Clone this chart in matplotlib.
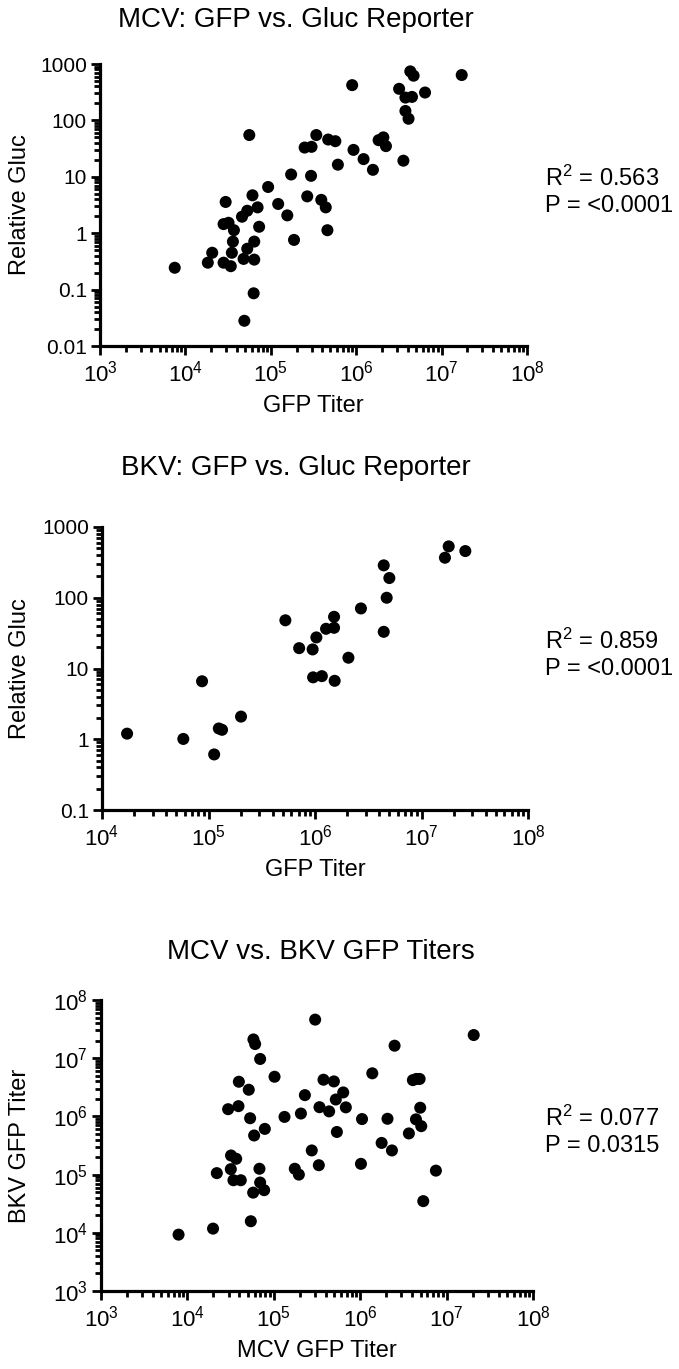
import numpy as np
import matplotlib
matplotlib.use("Agg")
from matplotlib import pyplot as plt
from matplotlib.ticker import LogLocator, FixedLocator, FixedFormatter, NullFormatter

plt.rcParams["font.family"] = ["Liberation Sans", "DejaVu Sans"]
plt.rcParams["mathtext.fontset"] = "custom"
plt.rcParams["mathtext.rm"] = "Liberation Sans"
plt.rcParams["mathtext.it"] = "Liberation Sans:italic"
plt.rcParams["mathtext.bf"] = "Liberation Sans:bold"

# MCV: GFP titer vs relative Gluc
mcv_gfp = [7.5e3, 1.83e4, 2.06e4, 2.8e4, 3.4e4, 2.96e4, 2.8e4, 3.2e4, 3.7e4, 3.6e4,
           3.5e4, 4.6e4, 5.3e4, 5.6e4, 6.1e4, 7.0e4, 7.3e4, 6.4e4, 5.3e4, 4.8e4,
           6.4e4, 6.3e4, 4.9e4, 9.3e4, 1.22e5, 1.56e5, 1.87e5, 1.73e5, 2.49e5, 3.0e5,
           3.41e5, 2.96e5, 2.67e5, 3.9e5, 4.4e5, 4.6e5, 4.7e5, 5.7e5, 6.1e5, 8.97e5,
           9.3e5, 1.22e6, 1.57e6, 1.83e6, 2.08e6, 2.23e6, 3.18e6, 3.57e6, 3.77e6, 4.5e6,
           3.77e6, 4.1e6, 4.3e6, 4.7e6, 6.4e6, 1.72e7]
mcv_gluc = [0.244, 0.30, 0.45, 0.30, 0.26, 3.58, 1.45, 1.53, 1.13, 0.71,
            0.45, 1.96, 2.5, 55, 4.7, 2.87, 1.30, 0.71, 0.53, 0.35,
            0.34, 0.086, 0.028, 6.6, 3.3, 2.07, 0.76, 11, 33, 34,
            55, 10.4, 4.5, 3.9, 2.87, 1.13, 45.8, 42.8, 16.4, 422,
            30, 20.6, 13.3, 44.6, 50, 35, 363, 19.3, 254, 261,
            147, 107, 740, 620, 312, 637]

# BKV: GFP titer vs relative Gluc
bkv_gfp = [1.72e4, 5.8e4, 8.7e4, 1.13e5, 1.25e5, 1.34e5, 2.02e5, 5.27e5, 7.1e5, 9.5e5,
           1.03e6, 1.27e6, 1.51e6, 1.51e6, 9.6e5, 1.16e6, 1.53e6, 2.06e6, 2.70e6, 4.42e6,
           4.71e6, 4.99e6, 4.42e6, 1.66e7, 1.8e7, 2.58e7]
bkv_gluc = [1.20, 1.01, 6.6, 0.61, 1.42, 1.36, 2.09, 48, 19.4, 18.6,
            27.5, 36.4, 37.6, 53.8, 7.5, 7.8, 6.7, 14.2, 70.6, 33,
            100, 190, 287, 368, 532, 457]

# MCV vs BKV GFP titers
pair_mcv = [7.9e3, 1.98e4, 2.19e4, 2.96e4, 3.9e4, 3.94e4, 3.2e4, 3.67e4, 3.18e4, 3.41e4,
            4.15e4, 5.13e4, 5.32e4, 5.81e4, 6.08e4, 6.95e4, 5.92e4, 7.87e4, 6.82e4, 6.95e4,
            7.73e4, 5.77e4, 5.42e4, 1.02e5, 1.33e5, 1.75e5, 1.95e5, 2.06e5, 2.29e5, 2.75e5,
            3.01e5, 3.32e5, 3.38e5, 3.76e5, 4.37e5, 4.96e5, 5.22e5, 5.37e5, 6.36e5, 6.82e5,
            1.02e6, 1.05e6, 1.38e6, 1.77e6, 2.07e6, 2.33e6, 2.50e6, 3.66e6, 4.07e6, 4.46e6,
            4.87e6, 4.42e6, 4.95e6, 5.09e6, 5.37e6, 7.52e6, 2.06e7]
pair_bkv = [9.3e3, 1.18e4, 1.06e5, 1.33e6, 1.5e6, 3.94e6, 2.13e5, 1.87e5, 1.24e5, 8.0e4,
            8.0e4, 2.87e6, 9.3e5, 2.1e7, 1.75e7, 9.7e6, 4.7e5, 6.1e5, 1.26e5, 7.3e4,
            5.4e4, 4.9e4, 1.58e4, 4.8e6, 9.8e5, 1.26e5, 1.0e5, 1.12e6, 2.32e6, 2.6e5,
            4.6e7, 1.45e5, 1.44e6, 4.27e6, 1.22e6, 3.99e6, 1.95e6, 5.4e5, 2.58e6, 1.43e6,
            1.53e5, 9.0e5, 5.5e6, 3.5e5, 9.1e5, 2.6e5, 1.64e7, 5.1e5, 4.2e6, 4.4e6,
            4.4e6, 8.9e5, 1.41e6, 6.8e5, 3.5e4, 1.17e5, 2.5e7]

titles = ["MCV: GFP vs. Gluc Reporter", "BKV: GFP vs. Gluc Reporter", "MCV vs. BKV GFP Titers"]
xlabels = ["GFP Titer", "GFP Titer", "MCV GFP Titer"]
ylabels = ["Relative Gluc", "Relative Gluc", "BKV GFP Titer"]
stats = [("0.563", "<0.0001"), ("0.859", "<0.0001"), ("0.077", "0.0315")]

W, H = 679, 1369
fig = plt.figure(figsize=(W / 100, H / 100), dpi=100)


def px_axes(left, right, top, bottom):
    return fig.add_axes([left / W, 1 - bottom / H, (right - left) / W, (bottom - top) / H])


def sup(e):
    return r"$\mathregular{10^{%d}}$" % e


def style(ax, xlim, ylim, ylab_plain):
    ax.set_xscale("log")
    ax.set_yscale("log")
    ax.set_xlim(*xlim)
    ax.set_ylim(*ylim)
    for s in ["top", "right"]:
        ax.spines[s].set_visible(False)
    for s in ["left", "bottom"]:
        ax.spines[s].set_linewidth(2.3)
    ax.tick_params(which="major", length=6.5, width=2, labelsize=15, pad=3)
    ax.tick_params(which="minor", length=4.5, width=2)
    ax.tick_params(axis="x", which="major", labelsize=16, pad=4)
    xe = range(int(round(np.log10(xlim[0]))), int(round(np.log10(xlim[1]))) + 1)
    ax.xaxis.set_major_locator(FixedLocator([10.0 ** e for e in xe]))
    ax.xaxis.set_major_formatter(FixedFormatter([sup(e) for e in xe]))
    ax.xaxis.set_minor_locator(LogLocator(base=10, subs=range(2, 10)))
    ax.xaxis.set_minor_formatter(NullFormatter())
    ye = range(int(round(np.log10(ylim[0]))), int(round(np.log10(ylim[1]))) + 1)
    ax.yaxis.set_major_locator(FixedLocator([10.0 ** e for e in ye]))
    if ylab_plain:
        ax.yaxis.set_major_formatter(FixedFormatter(["%g" % (10.0 ** e) for e in ye]))
    else:
        ax.yaxis.set_major_formatter(FixedFormatter([sup(e) for e in ye]))
        ax.tick_params(axis="y", which="major", labelsize=16)
    ax.yaxis.set_minor_locator(LogLocator(base=10, subs=range(2, 10)))
    ax.yaxis.set_minor_formatter(NullFormatter())


boxes = [(100, 527, 64, 346), (102, 528, 527, 810), (101, 533, 1000, 1291)]
data = [(mcv_gfp, mcv_gluc), (bkv_gfp, bkv_gluc), (pair_mcv, pair_bkv)]
lims = [((1e3, 1e8), (1e-2, 1e3)), ((1e4, 1e8), (1e-1, 1e3)), ((1e3, 1e8), (1e3, 1e8))]
title_xy = [(296, 20), (296, 468), (321, 952)]
stat_y = [178, 641, 1118]

for i in range(3):
    l, r, t, b = boxes[i]
    ax = px_axes(l, r, t, b)
    x, y = data[i]
    ax.scatter(x, y, s=75, c="black", edgecolors="none", clip_on=False, zorder=3)
    style(ax, lims[i][0], lims[i][1], i < 2)
    tx, ty = title_xy[i]
    fig.text(tx / W, 1 - ty / H, titles[i], ha="center", va="center", fontsize=20)
    fig.text((l + r) / 2 / W, 1 - (b + 60) / H, xlabels[i], ha="center", va="center", fontsize=17)
    fig.text(20 / W, 1 - (t + b) / 2 / H, ylabels[i], ha="center", va="center",
             rotation=90, fontsize=17)
    r2, p = stats[i]
    fig.text(545 / W, 1 - stat_y[i] / H, r"R$^{\mathregular{2}}$ = " + r2, ha="left", va="center", fontsize=17)
    fig.text(545 / W, 1 - (stat_y[i] + 28) / H, "P = " + p, ha="left", va="center", fontsize=17)

fig.savefig("out.png", dpi=100)
